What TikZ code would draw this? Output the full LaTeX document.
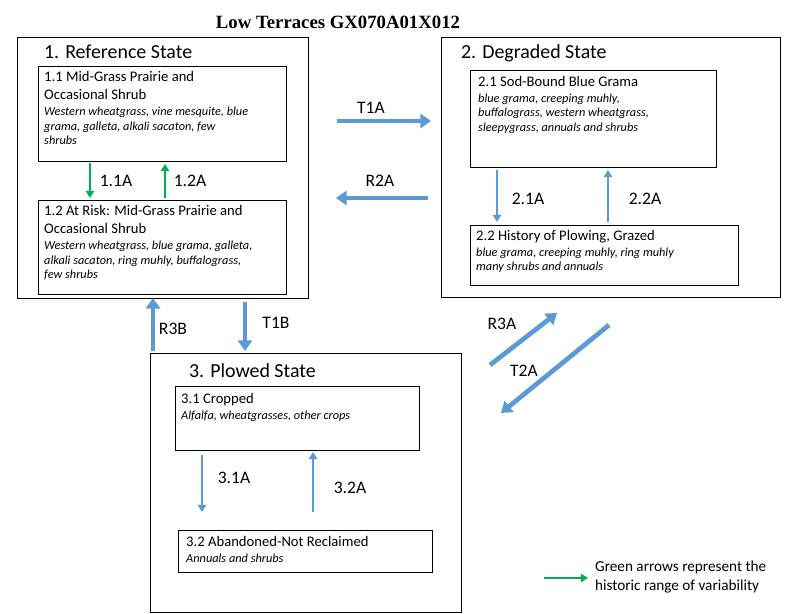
\documentclass[tikz,border=0pt]{standalone}
\usepackage{fontspec}
\setmainfont{Carlito}
\newfontfamily\titlefont{Liberation Serif}
\usetikzlibrary{arrows.meta}
\definecolor{ablue}{RGB}{91,155,213}
\definecolor{agreen}{RGB}{0,176,80}
\tikzset{
 statebox/.style={draw,line width=0.8pt},
 phasebox/.style={draw,line width=0.5pt},
 statelbl/.style={anchor=west,font=\fontsize{17}{19}\selectfont},
 phasetxt/.style={anchor=north west,align=left,inner sep=0pt,font=\fontsize{12.5}{15.5}\selectfont},
 thick arr/.style={draw=ablue,line width=4pt,-{Triangle[length=9pt,width=12pt]}},
 thin arr/.style={draw=ablue,line width=1.6pt,-{Triangle[length=6pt,width=7pt]}},
 green arr/.style={draw=agreen,line width=2pt,-{Triangle[length=6pt,width=7pt]}},
 arrlbl/.style={font=\fontsize{15}{17}\selectfont},
}
\newcommand{\spc}[1]{{\itshape\fontsize{10.5}{14}\selectfont #1}}
\begin{document}
\begin{tikzpicture}[x=0.03cm,y=-0.03cm]
\useasboundingbox[fill=white] (0,0) rectangle (800,614);
\node[font=\titlefont\bfseries\fontsize{16}{18}\selectfont] (title) at (338,22) {Low Terraces GX070A01X012};
% state 1
\draw[statebox] (17,37) rectangle (308,298);
\node[statelbl] (s1) at (40,52) {1. Reference State};
\draw[phasebox] (38,66) rectangle (286,161);
\node[phasetxt] (p11) at (44,71) {1.1 Mid-Grass Prairie and\\Occasional Shrub\\[-2pt]\spc{Western wheatgrass, vine mesquite, blue}\\[-3pt]\spc{grama, galleta, alkali sacaton, few}\\[-3pt]\spc{shrubs}};
\draw[phasebox] (38,200) rectangle (286,294);
\node[phasetxt] (p12) at (44,205) {1.2 At Risk: Mid-Grass Prairie and\\Occasional Shrub\\[-2pt]\spc{Western wheatgrass, blue grama, galleta,}\\[-3pt]\spc{alkali sacaton, ring muhly, buffalograss,}\\[-3pt]\spc{few shrubs}};
\coordinate (g1s) at (90,163); \coordinate (g1e) at (90,198);
\coordinate (g2s) at (165,198); \coordinate (g2e) at (165,164);
\draw[green arr] (g1s) -- (g1e);
\draw[green arr] (g2s) -- (g2e);
\node[arrlbl] (l11) at (116,181) {1.1A};
\node[arrlbl] (l12) at (190,181) {1.2A};
% state 2
\draw[statebox] (441,37) rectangle (780,297);
\node[statelbl] (s2) at (457,53) {2. Degraded State};
\draw[phasebox] (470,70) rectangle (716,167);
\node[phasetxt] (p21) at (478,76) {2.1 Sod-Bound Blue Grama\\[-2pt]\spc{blue grama, creeping muhly,}\\[-3pt]\spc{buffalograss, western wheatgrass,}\\[-3pt]\spc{sleepygrass, annuals and shrubs}};
\draw[phasebox] (470,225) rectangle (738,285);
\node[phasetxt] (p22) at (476,230) {2.2 History of Plowing, Grazed\\[-2pt]\spc{blue grama, creeping muhly, ring muhly}\\[-3pt]\spc{many shrubs and annuals}};
\coordinate (a21s) at (497,170); \coordinate (a21e) at (497,222);
\coordinate (a22s) at (608,222); \coordinate (a22e) at (608,170);
\draw[thin arr] (a21s) -- (a21e);
\draw[thin arr] (a22s) -- (a22e);
\node[arrlbl] (l21) at (528,199) {2.1A};
\node[arrlbl] (l22) at (645,199) {2.2A};
% T1A R2A
\coordinate (t1as) at (337,121); \coordinate (t1ae) at (431,121);
\draw[thick arr] (t1as) -- (t1ae);
\node[arrlbl] (lt1a) at (371,108) {T1A};
\coordinate (r2as) at (428,198); \coordinate (r2ae) at (336,198);
\draw[thick arr] (r2as) -- (r2ae);
\node[arrlbl] (lr2a) at (380,181) {R2A};
% state 3
\draw[statebox] (150,353) rectangle (461,612);
\node[statelbl] (s3) at (185,371) {3. Plowed State};
\draw[phasebox] (175,386) rectangle (419,450);
\node[phasetxt] (p31) at (181,393) {3.1 Cropped\\[-2pt]\spc{Alfalfa, wheatgrasses, other crops}};
\draw[phasebox] (178,530) rectangle (432,572);
\node[phasetxt] (p32) at (186,536) {3.2 Abandoned-Not Reclaimed\\[-2pt]\spc{Annuals and shrubs}};
\coordinate (a31s) at (202,455); \coordinate (a31e) at (202,512);
\coordinate (a32s) at (313,512); \coordinate (a32e) at (313,452);
\draw[thin arr] (a31s) -- (a31e);
\draw[thin arr] (a32s) -- (a32e);
\node[arrlbl] (l31) at (234,478) {3.1A};
\node[arrlbl] (l32) at (350,488) {3.2A};
% R3B T1B
\coordinate (r3bs) at (153,351); \coordinate (r3be) at (153,298);
\draw[thick arr] (r3bs) -- (r3be);
\node[arrlbl] (lr3b) at (173,329) {R3B};
\coordinate (t1bs) at (245,302); \coordinate (t1be) at (245,351);
\draw[thick arr] (t1bs) -- (t1be);
\node[arrlbl] (lt1b) at (276,323) {T1B};
% R3A T2A
\coordinate (r3as) at (490,365); \coordinate (r3ae) at (557,313);
\draw[thick arr] (r3as) -- (r3ae);
\node[arrlbl] (lr3a) at (502,324) {R3A};
\coordinate (t2as) at (609,325); \coordinate (t2ae) at (501,413);
\draw[thick arr] (t2as) -- (t2ae);
\node[arrlbl] (lt2a) at (524,371) {T2A};
% legend
\coordinate (lgs) at (544,578); \coordinate (lge) at (588,578);
\draw[green arr] (lgs) -- (lge);
\node[anchor=west,align=left,font=\fontsize{13}{16.5}\selectfont] (leg) at (591,577) {Green arrows represent the\\historic range of variability};
\end{tikzpicture}
\end{document}
